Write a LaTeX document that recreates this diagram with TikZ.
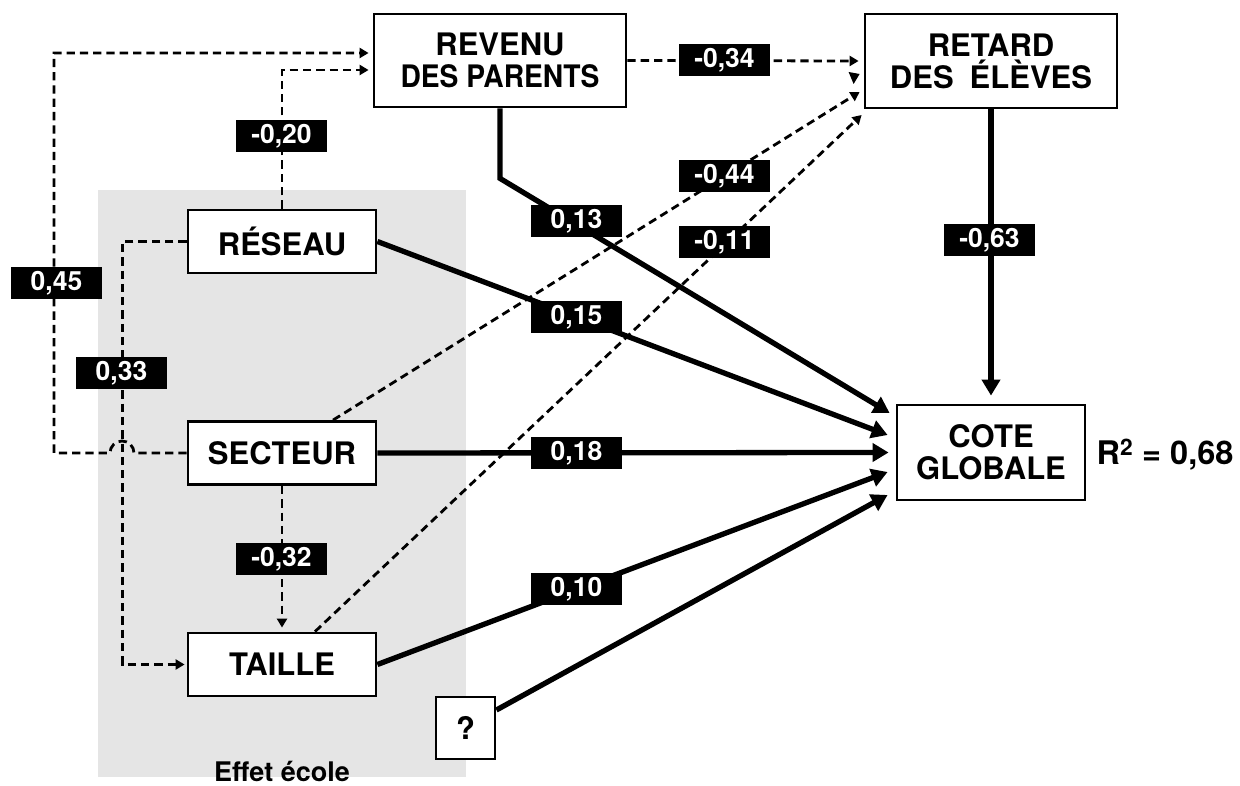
\documentclass[tikz,border=0pt]{standalone}
\usepackage{fontspec}
\usepackage{graphicx}
\setmainfont{texgyreheros}[Extension=.otf,UprightFont=*-regular,BoldFont=*-bold,ItalicFont=*-italic,BoldItalicFont=*-bolditalic]
\usetikzlibrary{arrows.meta,calc}
\definecolor{bggray}{HTML}{E5E5E5}
\newcommand\nodefnt{\fontsize{31}{32}\selectfont\bfseries}
\newcommand\labfnt{\fontsize{26.5}{28}\selectfont\bfseries}
\begin{document}
\begin{tikzpicture}[x=1pt,y=-1pt,
 box/.style={draw, line width=2.8pt, fill=white, inner sep=0pt, align=center, font=\nodefnt},
 lab/.style={fill=black, text=white, minimum width=91pt, minimum height=32pt, inner sep=0pt, font=\labfnt},
 thickarrow/.style={line width=5.3pt, -{Triangle[length=16pt,width=18pt]}},
 dasharrow/.style={line width=2.8pt, dash pattern=on 8.3pt off 5pt, -{Triangle[length=9pt,width=10pt]}},
]
\useasboundingbox (0,0) rectangle (1240,786);
\fill[bggray] (98,190) rectangle (466,777);

% nodes
\node[box, minimum width=252pt, minimum height=93pt] (rev) at (500,60.5) {REVENU\\\scalebox{0.91}[1]{DES PARENTS}};
\node[box, minimum width=252pt, minimum height=94pt] (ret) at (991,61) {RETARD\\DES\hspace{16pt}ÉLÈVES};
\node[box, minimum width=188pt, minimum height=95pt] (cote) at (991,452.5) {COTE\\GLOBALE};
\node[box, minimum width=188pt, minimum height=63pt] (res) at (282,241.5) {RÉSEAU};
\node[box, minimum width=188pt, minimum height=63pt] (sec) at (282,453) {SECTEUR};
\node[box, minimum width=188pt, minimum height=63pt] (tai) at (282,664.5) {TAILLE};
\node[box, minimum width=59pt, minimum height=62pt] (q) at (465.5,728) {?};

% target points
\coordinate (c1) at ($(cote.west)+(-6,-39.5)$);
\coordinate (c2) at ($(cote.west)+(-8,-17.5)$);
\coordinate (c3) at ($(cote.west)+(-7,0)$);
\coordinate (c4) at ($(cote.west)+(-8,19.5)$);
\coordinate (c5) at ($(cote.west)+(-8,42.5)$);
\coordinate (qs) at ($(q.east)+(0,-18)$);

% solid connectors
\draw[thickarrow] (rev.south) -- ++(0,70) -- (c1);
\draw[thickarrow] (res.east) -- (c2);
\draw[thickarrow] (sec.east) -- (c3);
\draw[thickarrow] (tai.east) -- (c4);
\draw[thickarrow] (qs) -- (c5);
\draw[thickarrow] (ret.south) -- ($(cote.north)+(0,-8)$);

% dashed connectors
\draw[dasharrow] (rev.east) -- ($(ret.west)+(-5,0)$);
\draw[dasharrow] ($(sec.north)+(51,0)$) -- ($(ret.west)+(-4,31)$);
\draw[dasharrow] ($(tai.north)+(33,0)$) -- ($(ret.west)+(-2,54)$);
\fill ($(ret.west)+(-15,11)$) -- ++(11,2) -- ++(-6,10) -- cycle;
\draw[dasharrow] (res.north) |- ($(rev.west)+(-4,9.5)$);
\draw[dasharrow] (sec.west) -- (134,453) arc[start angle=0,end angle=180,radius=12pt] -- (54,453) -- (54,53) -- ($(rev.west)+(-4,-7.5)$);
\draw[dasharrow] (res.west) -- ++(-64,0) |- ($(tai.west)+(-2,0)$);
\draw[dasharrow] (sec.south) -- ($(tai.north)+(0,-4)$);

% labels
\node[lab] (l13) at (576.5,221) {0,13};
\node[lab] (l15) at (576.5,317) {0,15};
\node[lab] (l18) at (576.5,453) {0,18};
\node[lab] (l10) at (576.5,589) {0,10};
\node[lab] (l34) at (724.5,60) {-0,34};
\node[lab] (l44) at (724.5,176) {-0,44};
\node[lab] (l11) at (724.5,242.5) {-0,11};
\node[lab] (l63) at (989.5,240) {-0,63};
\node[lab] (l20) at (281.5,136) {-0,20};
\node[lab] (l45) at (56.5,283) {0,45};
\node[lab] (l33) at (121.5,373) {0,33};
\node[lab] (l32) at (281.5,559) {-0,32};

\node[font=\fontsize{32.5}{34}\selectfont\bfseries, inner sep=0pt] (r2) at (1165,455) {R\textsuperscript{2} = 0,68};
\node[font=\fontsize{27}{28}\selectfont\bfseries, anchor=base, inner sep=0pt] (eff) at (282,781) {Effet école};
\end{tikzpicture}
\end{document}
